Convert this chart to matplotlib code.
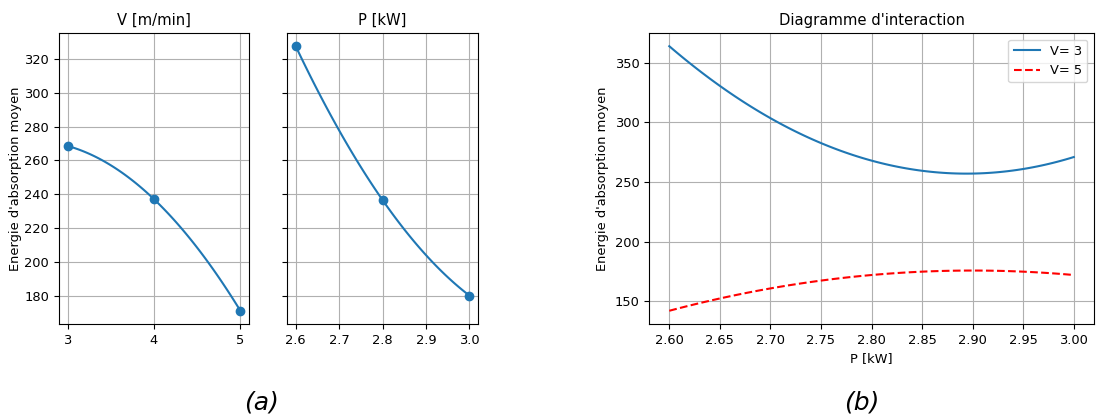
import matplotlib.pyplot as plt
import numpy as np

# main effects (mean values at each level)
V_levels = [3, 4, 5]
V_means = [268.5, 237.0, 171.0]
P_levels = [2.6, 2.8, 3.0]
P_means = [327.5, 236.5, 180.0]

# interaction: mean energy at P levels for V=3 and V=5
V3_means = [364.0, 268.0, 271.0]
V5_means = [142.0, 172.0, 172.0]

ylabel = "Energie d'absorption moyen"

plt.rcParams['font.size'] = 9.4
plt.rcParams['axes.titlesize'] = 10.6


def smooth(x, y, n=100):
    c = np.polyfit(x, y, 2)
    xs = np.linspace(min(x), max(x), n)
    return xs, np.polyval(c, xs)


fig = plt.figure(figsize=(10.96, 4.18), dpi=100)
ax1 = fig.add_axes([0.0538, 0.2249, 0.1734, 0.6962])
ax2 = fig.add_axes([0.2619, 0.2249, 0.1743, 0.6962], sharey=ax1)
ax3 = fig.add_axes([0.5922, 0.2249, 0.4060, 0.6962])

col = '#1f77b4'
xs, ys = smooth(V_levels, V_means)
ax1.plot(xs, ys, color=col)
ax1.plot(V_levels, V_means, 'o', color=col)
ax1.set_title('V [m/min]')
ax1.set_ylabel(ylabel, labelpad=1.5)
ax1.set_xticks(V_levels)
ax1.grid(True)

xs, ys = smooth(P_levels, P_means)
ax2.plot(xs, ys, color=col)
ax2.plot(P_levels, P_means, 'o', color=col)
ax2.set_title('P [kW]')
ax2.set_xticks([2.6, 2.7, 2.8, 2.9, 3.0])
ax2.tick_params(labelleft=False)
ax2.grid(True)

xs, ys = smooth(P_levels, V3_means)
ax3.plot(xs, ys, color=col, label='V= 3')
xs, ys = smooth(P_levels, V5_means)
ax3.plot(xs, ys, 'r--', label='V= 5')
ax3.set_title("Diagramme d'interaction")
ax3.set_xlabel('P [kW]')
ax3.set_ylabel(ylabel)
ax3.set_xticks(np.arange(2.6, 3.001, 0.05))
ax3.grid(True)
ax3.legend(loc='upper right')

fig.text(0.239, 0.02, '(a)', fontsize=18, style='italic', ha='center')
fig.text(0.786, 0.02, '(b)', fontsize=18, style='italic', ha='center')

fig.savefig('out.png', dpi=100)
